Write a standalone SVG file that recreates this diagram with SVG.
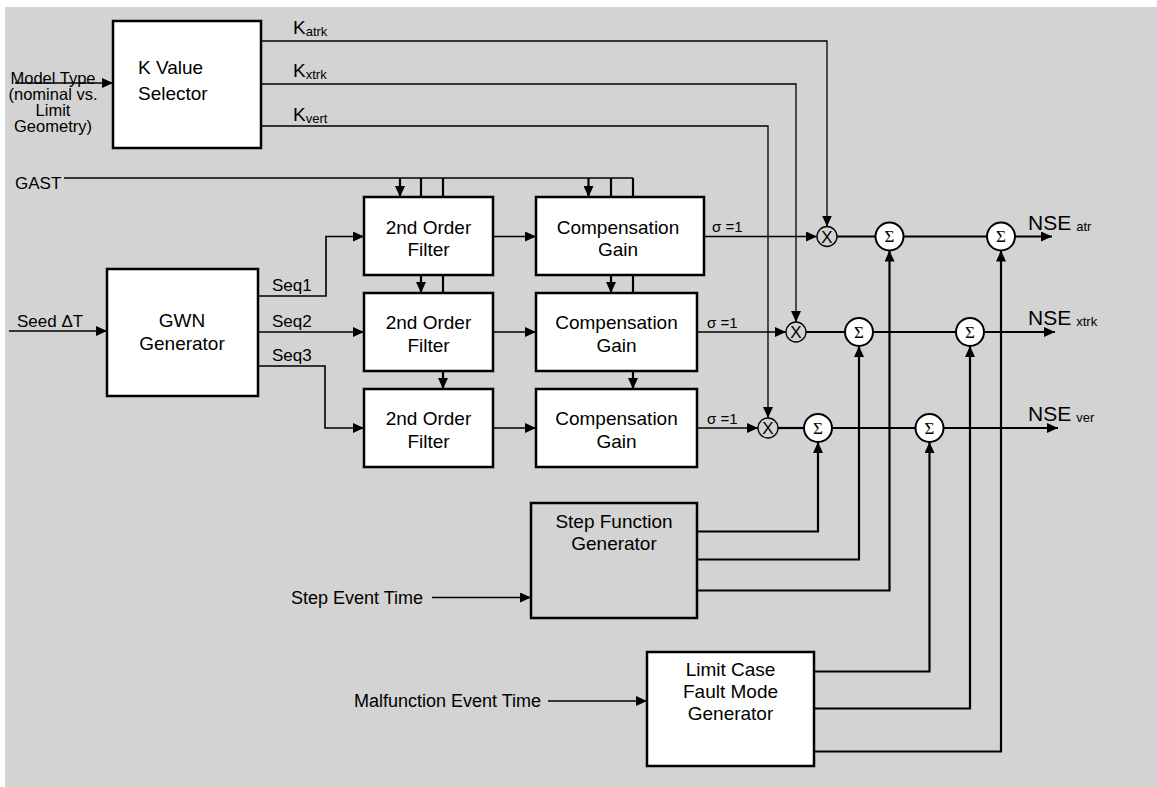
<svg xmlns="http://www.w3.org/2000/svg" width="1157" height="787" viewBox="0 0 1157 787">
<defs>
<marker id="ah" viewBox="0 0 11 10" refX="11" refY="5" markerWidth="11" markerHeight="10" orient="auto" markerUnits="userSpaceOnUse"><path d="M0,0 L11,5 L0,10 z" fill="#000"/></marker>
<style>
.t{font-family:"Liberation Sans",Arial,Helvetica,sans-serif;fill:#000}
.lbl{font-size:17px}
.ev{font-size:18px}
.mt{font-size:16.5px;text-anchor:middle}
.ttl{font-size:19px;text-anchor:middle}
.box{fill:#fff;stroke:#000;stroke-width:2.5}
.thin{fill:none;stroke:#000;stroke-width:1.3}
.med{fill:none;stroke:#000;stroke-width:1.6}
.thick{fill:none;stroke:#000;stroke-width:2.2}
.arr{marker-end:url(#ah)}
.sum{fill:#fff;stroke:#000;stroke-width:2}
.mul{fill:none;stroke:#000;stroke-width:1.3}
.sig{font-family:"Liberation Serif","Times New Roman",serif;font-size:17px;text-anchor:middle}
.nse{font-size:21px}
.sub{font-size:13px}
</style>
</defs>
<rect x="5" y="7" width="1152" height="780" fill="#d3d3d3"/>

<g id="connectors">
<path class="med arr" d="M15,83 H113"/>
<path class="thin arr" d="M261,41 H827 V226.5"/>
<path class="thin arr" d="M261,84 H796 V322"/>
<path class="thin arr" d="M261,126 H768 V418"/>
<path class="thin" d="M64,178 H633"/>
<path class="thick arr" d="M400,178 V197"/>
<path class="thick" d="M421,178 V197"/>
<path class="thick" d="M443,178 V197"/>
<path class="thick arr" d="M588.5,178 V197"/>
<path class="thick" d="M611,178 V197"/>
<path class="thick" d="M633,178 V197"/>
<path class="thick arr" d="M421,275 V293"/>
<path class="thick" d="M443,275 V293"/>
<path class="thick arr" d="M443,371 V389"/>
<path class="thick arr" d="M611,275 V293"/>
<path class="thick" d="M633,275 V293"/>
<path class="thick arr" d="M633,371 V389"/>
<path class="med arr" d="M9,331 H107"/>
<path class="med arr" d="M258,296 H326 V236.5 H364"/>
<path class="med arr" d="M258,332 H364"/>
<path class="med arr" d="M258,366 H325 V428 H364"/>
<path class="thin arr" d="M493,236.5 H536"/>
<path class="thin arr" d="M493,332 H536"/>
<path class="thin arr" d="M493,428 H536"/>
<path class="thin arr" d="M704,236.5 H817"/>
<path class="thin arr" d="M697,332 H786"/>
<path class="thin arr" d="M697,428 H758"/>
<path class="thick" d="M837,236.5 H875.5"/>
<path class="thick" d="M903.5,236.5 H987"/>
<path class="thick arr" d="M1015,236.5 H1052"/>
<path class="thick" d="M806,332 H845"/>
<path class="thick" d="M873,332 H956"/>
<path class="thick arr" d="M984,332 H1055"/>
<path class="thick" d="M778,428 H804"/>
<path class="thick" d="M832,428 H915.5"/>
<path class="thick arr" d="M943.5,428 H1058"/>
<path class="thick arr" d="M697,531.5 H818 V442"/>
<path class="thick arr" d="M697,559.5 H859 V346"/>
<path class="thick arr" d="M697,590.5 H889.5 V250.5"/>
<path class="thick arr" d="M814,671.5 H929.5 V442"/>
<path class="thick arr" d="M814,708.5 H970 V346"/>
<path class="thick arr" d="M814,751.5 H1001 V250.5"/>
<path class="thin arr" d="M432,597.5 H531"/>
<path class="thin arr" d="M548,701 H647"/>
</g>

<g id="labels" class="t">
<text class="mt" x="53" y="83.5">Model Type</text>
<text class="mt" x="53" y="100">(nominal vs.</text>
<text class="mt" x="53" y="116">Limit</text>
<text class="mt" x="53" y="132">Geometry)</text>
<text x="293" y="34" font-size="19">K<tspan class="sub" dy="2">atrk</tspan></text>
<text x="293" y="77" font-size="19">K<tspan class="sub" dy="2">xtrk</tspan></text>
<text x="293" y="121" font-size="19">K<tspan class="sub" dy="2">vert</tspan></text>
<text class="lbl" x="15" y="189">GAST</text>
<text class="lbl" x="17" y="327">Seed ΔT</text>
<text class="lbl" x="272" y="291">Seq1</text>
<text class="lbl" x="272" y="327">Seq2</text>
<text class="lbl" x="272" y="361">Seq3</text>
<text font-size="15" x="712" y="232">σ =1</text>
<text font-size="15" x="707" y="328">σ =1</text>
<text font-size="15" x="707" y="424">σ =1</text>
<text class="nse" x="1028" y="229.5">NSE<tspan class="sub" dx="5" dy="1">atr</tspan></text>
<text class="nse" x="1028" y="325">NSE<tspan class="sub" dx="5" dy="1">xtrk</tspan></text>
<text class="nse" x="1028" y="420.5">NSE<tspan class="sub" dx="5" dy="1">ver</tspan></text>
<text class="ev" x="291" y="603.5">Step Event Time</text>
<text class="ev" x="354" y="707">Malfunction Event Time</text>
</g>

<g id="k-value-selector">
<rect class="box" x="113" y="21" width="148" height="127"/>
<text class="t" font-size="19" x="138" y="74">K Value</text>
<text class="t" font-size="19" x="138" y="100">Selector</text>
</g>

<g id="gwn-generator">
<rect class="box" x="107" y="269" width="151" height="127"/>
<text class="t ttl" x="182" y="327">GWN</text>
<text class="t ttl" x="182" y="350">Generator</text>
</g>

<g id="filter-1">
<rect class="box" x="364" y="197" width="129" height="78"/>
<text class="t ttl" x="428.5" y="233.5">2nd Order</text>
<text class="t ttl" x="428.5" y="256">Filter</text>
</g>
<g id="filter-2">
<rect class="box" x="364" y="293" width="129" height="78"/>
<text class="t ttl" x="428.5" y="329">2nd Order</text>
<text class="t ttl" x="428.5" y="351.5">Filter</text>
</g>
<g id="filter-3">
<rect class="box" x="364" y="389" width="129" height="78"/>
<text class="t ttl" x="428.5" y="425">2nd Order</text>
<text class="t ttl" x="428.5" y="447.5">Filter</text>
</g>

<g id="comp-gain-1">
<rect class="box" x="536" y="197" width="168" height="78"/>
<text class="t ttl" x="618" y="233.5">Compensation</text>
<text class="t ttl" x="618" y="256">Gain</text>
</g>
<g id="comp-gain-2">
<rect class="box" x="536" y="293" width="161" height="78"/>
<text class="t ttl" x="616.5" y="329">Compensation</text>
<text class="t ttl" x="616.5" y="351.5">Gain</text>
</g>
<g id="comp-gain-3">
<rect class="box" x="536" y="389" width="161" height="78"/>
<text class="t ttl" x="616.5" y="425">Compensation</text>
<text class="t ttl" x="616.5" y="447.5">Gain</text>
</g>

<g id="mult-1"><circle class="mul" cx="827" cy="236.5" r="10"/><text class="t" font-size="17" text-anchor="middle" x="827" y="242.5">X</text></g>
<g id="mult-2"><circle class="mul" cx="796" cy="332" r="10"/><text class="t" font-size="17" text-anchor="middle" x="796" y="338">X</text></g>
<g id="mult-3"><circle class="mul" cx="768" cy="428" r="10"/><text class="t" font-size="17" text-anchor="middle" x="768" y="434">X</text></g>

<g id="sum-1a"><circle class="sum" cx="889.5" cy="236.5" r="14"/><text class="sig" x="889.5" y="242">Σ</text></g>
<g id="sum-1b"><circle class="sum" cx="1001" cy="236.5" r="14"/><text class="sig" x="1001" y="242">Σ</text></g>
<g id="sum-2a"><circle class="sum" cx="859" cy="332" r="14"/><text class="sig" x="859" y="337.5">Σ</text></g>
<g id="sum-2b"><circle class="sum" cx="970" cy="332" r="14"/><text class="sig" x="970" y="337.5">Σ</text></g>
<g id="sum-3a"><circle class="sum" cx="818" cy="428" r="14"/><text class="sig" x="818" y="433.5">Σ</text></g>
<g id="sum-3b"><circle class="sum" cx="929.5" cy="428" r="14"/><text class="sig" x="929.5" y="433.5">Σ</text></g>

<g id="step-function-generator">
<rect x="531" y="503" width="166" height="115" fill="#d3d3d3" stroke="#000" stroke-width="2.5"/>
<text class="t ttl" x="614" y="528">Step Function</text>
<text class="t ttl" x="614" y="550">Generator</text>
</g>

<g id="limit-case-generator">
<rect class="box" x="647" y="652" width="167" height="114"/>
<text class="t ttl" x="730.5" y="676">Limit Case</text>
<text class="t ttl" x="730.5" y="698">Fault Mode</text>
<text class="t ttl" x="730.5" y="720">Generator</text>
</g>
</svg>
